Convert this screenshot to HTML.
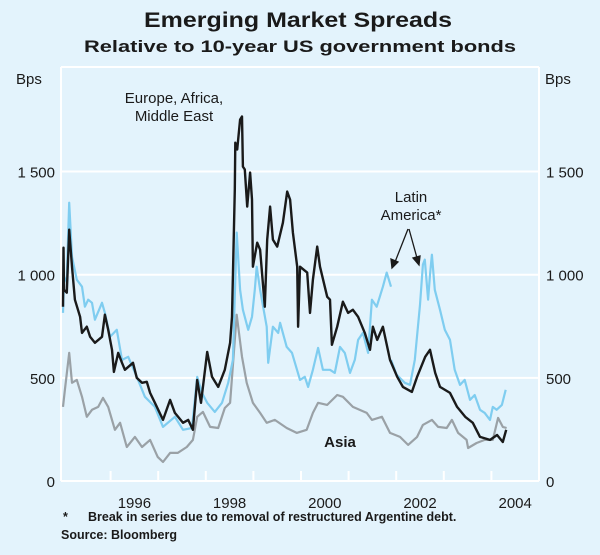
<!DOCTYPE html>
<html><head><meta charset="utf-8">
<style>
html,body{margin:0;padding:0;background:#e3f3fc;}
svg{display:block;font-family:"Liberation Sans",Arial,sans-serif;}
</style></head>
<body>
<svg id="chart" width="600" height="555" viewBox="0 0 600 555" xmlns="http://www.w3.org/2000/svg">
<rect x="0" y="0" width="600" height="555" fill="#e3f3fc"/>
<text x="298" y="27" text-anchor="middle" font-size="21" font-weight="bold" fill="#1a1a1a" textLength="308" lengthAdjust="spacingAndGlyphs">Emerging Market Spreads</text>
<text x="300" y="52" text-anchor="middle" font-size="16.5" font-weight="bold" fill="#1a1a1a" textLength="432" lengthAdjust="spacingAndGlyphs">Relative to 10-year US government bonds</text>
<text x="16" y="84" font-size="15" fill="#1a1a1a">Bps</text>
<text x="545" y="84" font-size="15" fill="#1a1a1a">Bps</text>
<g id="grid"></g>
<g id="series"></g>
<g id="labels"></g>
<text x="174" y="103" text-anchor="middle" font-size="15" fill="#1a1a1a">Europe, Africa,</text>
<text x="174" y="121" text-anchor="middle" font-size="15" fill="#1a1a1a">Middle East</text>
<text x="411" y="202" text-anchor="middle" font-size="15" fill="#1a1a1a">Latin</text>
<text x="411" y="220" text-anchor="middle" font-size="15" fill="#1a1a1a">America*</text>
<g stroke="#1a1a1a" stroke-width="1.3" fill="#1a1a1a">
<line x1="408" y1="229" x2="395" y2="262"/><polygon points="392,268 391,259 398,262"/>
<line x1="409" y1="229" x2="417" y2="258"/><polygon points="419,265 413,258 420,256"/>
</g>
<text x="340" y="447" text-anchor="middle" font-size="15" font-weight="bold" fill="#1a1a1a">Asia</text>
<text x="63" y="521" font-size="12.5" font-weight="bold" fill="#1a1a1a">*</text>
<text x="88" y="521" font-size="12.5" font-weight="bold" fill="#1a1a1a">Break in series due to removal of restructured Argentine debt.</text>
<text x="61" y="539" font-size="12.5" font-weight="bold" fill="#1a1a1a">Source: Bloomberg</text>
</svg>
<script>
const yTicks = [0, 500, 1000, 1500];
const yTickLabels = ["0", "500", "1 000", "1 500"];
const yearTicks = [1996,1997,1998,1999,2000,2001,2002,2003,2004];
const yearLabels = [1996, 1998, 2000, 2002, 2004];

const emeaDates = [1995.00,1995.01,1995.02,1995.08,1995.13,1995.19,1995.25,1995.36,1995.40,1995.50,1995.57,1995.67,1995.82,1995.88,1995.95,1996.03,1996.07,1996.16,1996.24,1996.30,1996.47,1996.55,1996.66,1996.76,1996.83,1996.93,1997.10,1997.25,1997.35,1997.52,1997.63,1997.73,1997.82,1997.90,1998.03,1998.13,1998.26,1998.40,1998.51,1998.55,1998.61,1998.62,1998.66,1998.72,1998.76,1998.78,1998.82,1998.87,1998.93,1998.97,1998.99,1999.08,1999.14,1999.24,1999.29,1999.35,1999.41,1999.50,1999.62,1999.71,1999.77,1999.83,1999.92,1999.94,1999.98,2000.13,2000.19,2000.25,2000.34,2000.40,2000.55,2000.61,2000.65,2000.76,2000.88,2000.99,2001.09,2001.20,2001.34,2001.45,2001.51,2001.60,2001.72,2001.87,2002.02,2002.14,2002.33,2002.44,2002.61,2002.71,2002.82,2002.92,2003.13,2003.28,2003.45,2003.61,2003.76,2003.97,2004.12,2004.24,2004.31];
const emeaValues = [845,1131,927,913,1218,1039,879,796,718,748,699,670,699,806,733,636,529,621,573,539,573,500,476,481,427,379,296,393,330,282,296,248,490,379,626,505,456,539,670,796,1412,1640,1607,1752,1767,1524,1510,1330,1495,1364,1039,1155,1121,845,1170,1330,1170,1136,1252,1403,1364,1204,1039,748,1039,1010,815,976,1136,1039,893,879,660,748,869,815,830,796,718,636,748,684,748,587,505,456,432,505,602,636,524,456,427,359,311,282,214,199,223,189,248];

const latamDates1 = [1995.00,1995.02,1995.08,1995.13,1995.19,1995.29,1995.40,1995.46,1995.53,1995.61,1995.67,1995.82,1995.88,1995.99,1996.13,1996.24,1996.37,1996.55,1996.72,1996.93,1997.10,1997.35,1997.52,1997.71,1997.82,1997.92,1998.03,1998.19,1998.34,1998.47,1998.57,1998.65,1998.72,1998.78,1998.89,1998.97,1999.03,1999.07,1999.14,1999.28,1999.31,1999.41,1999.52,1999.56,1999.70,1999.81,1999.98,2000.08,2000.15,2000.25,2000.36,2000.46,2000.61,2000.71,2000.82,2000.92,2001.03,2001.13,2001.20,2001.30,2001.41,2001.49,2001.59,2001.72,2001.80,2001.89];
const latamValues1 = [815,961,990,1349,1087,976,942,845,879,864,782,864,815,699,733,587,602,505,408,359,262,311,248,257,505,427,379,335,379,476,587,1204,927,830,733,796,927,1039,927,748,573,748,718,767,650,621,490,505,456,539,645,539,539,524,650,621,524,587,684,718,621,879,845,942,1010,942];
const latamDates2 = [2001.89,2002.01,2002.18,2002.29,2002.39,2002.50,2002.56,2002.60,2002.67,2002.71,2002.75,2002.81,2002.92,2003.02,2003.13,2003.23,2003.34,2003.44,2003.55,2003.65,2003.76,2003.86,2003.97,2004.03,2004.11,2004.22,2004.30];
const latamValues2 = [587,515,476,466,587,854,1049,1073,879,1000,1097,927,830,733,684,539,466,490,393,417,345,330,296,359,345,369,442];

const asiaDates = [1995.00,1995.04,1995.13,1995.19,1995.29,1995.40,1995.50,1995.61,1995.74,1995.84,1995.95,1996.09,1996.20,1996.34,1996.51,1996.66,1996.83,1996.99,1997.10,1997.25,1997.41,1997.60,1997.73,1997.82,1997.94,1998.09,1998.26,1998.40,1998.51,1998.65,1998.76,1998.86,1998.99,1999.14,1999.28,1999.45,1999.70,1999.91,2000.12,2000.25,2000.36,2000.55,2000.76,2000.88,2001.09,2001.38,2001.49,2001.70,2001.87,2002.08,2002.25,2002.44,2002.56,2002.75,2002.88,2003.06,2003.17,2003.30,2003.48,2003.51,2003.69,2003.86,2004.03,2004.14,2004.24,2004.32];
const asiaValues = [359,442,621,476,490,408,311,345,359,403,359,248,282,165,214,165,199,117,92,136,136,165,199,311,335,262,257,354,379,806,602,476,379,330,282,296,257,233,248,330,379,369,417,408,359,330,296,311,233,214,175,214,272,296,262,257,296,233,199,160,184,199,199,306,262,257];

const NS = "http://www.w3.org/2000/svg";
const X0 = 63, PX_PER_YEAR = 47.6, Y0 = 481, PX_PER_BP = 0.2063;
const L = 61, R = 539, T = 67;
function xScale(t){ return X0 + (t - 1995) * PX_PER_YEAR; }
function yScale(v){ return Y0 - v * PX_PER_BP; }

const grid = document.getElementById('grid');
const labels = document.getElementById('labels');
const series = document.getElementById('series');

function mk(tag, attrs, parent){
  const e = document.createElementNS(NS, tag);
  for (const k in attrs) e.setAttribute(k, attrs[k]);
  parent.appendChild(e);
  return e;
}

const topBorder = mk('line', {x1:L, y1:T, x2:R, y2:T, stroke:'#ffffff', 'stroke-width':2}, grid);


const lAx = mk('line', {x1:L, y1:T, x2:L, y2:Y0, stroke:'#ffffff', 'stroke-width':2}, grid);


const rAx = mk('line', {x1:R, y1:T, x2:R, y2:Y0, stroke:'#ffffff', 'stroke-width':2}, grid);



yTicks.forEach((v, i) => {
  const y = yScale(v);
  const g = mk('line', {x1:L, y1:y, x2:R, y2:y, stroke:'#ffffff', 'stroke-width':2}, grid);
  
  
  const tl = mk('text', {x:55, y:y+6, 'text-anchor':'end', 'font-size':15, fill:'#1a1a1a'}, labels);
  tl.textContent = yTickLabels[i];
  
  
  const tr = mk('text', {x:546, y:y+6, 'font-size':15, fill:'#1a1a1a'}, labels);
  tr.textContent = yTickLabels[i];
  
  
});

yearTicks.forEach(yr => {
  const x = xScale(yr);
  const tk = mk('line', {x1:x, y1:Y0, x2:x, y2:Y0-10, stroke:'#ffffff', 'stroke-width':2}, grid);
  
  
});
yearLabels.forEach(yr => {
  const t = mk('text', {x:xScale(yr + 0.5), y:508, 'text-anchor':'middle', 'font-size':15, fill:'#1a1a1a'}, labels);
  t.textContent = String(yr);
  
  
});

function pathFrom(dates, vals){
  return dates.map((d, i) => (i ? 'L' : 'M') + xScale(d).toFixed(1) + ',' + yScale(vals[i]).toFixed(1)).join(' ');
}
const asia = mk('path', {d:pathFrom(asiaDates, asiaValues), fill:'none', stroke:'#9aa1a6', 'stroke-width':2.2, 'stroke-linejoin':'round'}, series);


const la1 = mk('path', {d:pathFrom(latamDates1, latamValues1), fill:'none', stroke:'#7fcdf0', 'stroke-width':2.2, 'stroke-linejoin':'round'}, series);


const la2 = mk('path', {d:pathFrom(latamDates2, latamValues2), fill:'none', stroke:'#7fcdf0', 'stroke-width':2.2, 'stroke-linejoin':'round'}, series);


const em = mk('path', {d:pathFrom(emeaDates, emeaValues), fill:'none', stroke:'#1a1a1a', 'stroke-width':2.4, 'stroke-linejoin':'round'}, series);


</script>
</body></html>
